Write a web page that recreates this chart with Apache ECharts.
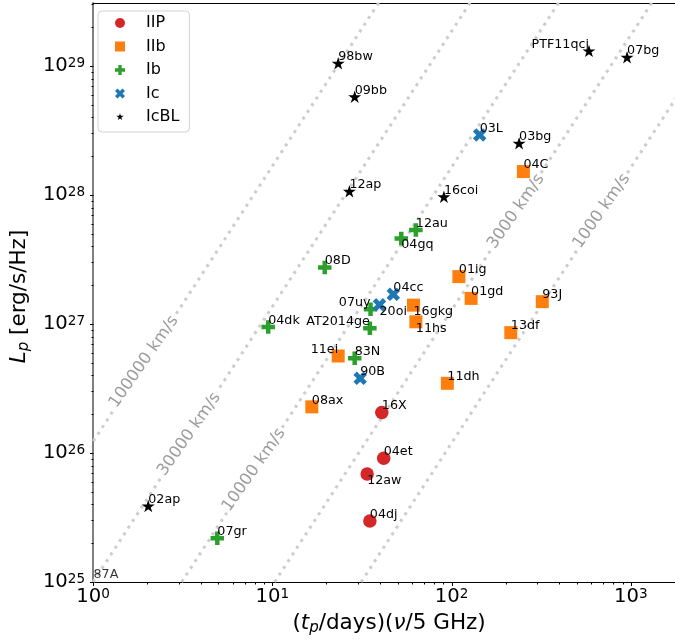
<!DOCTYPE html>
<html><head><meta charset="utf-8">
<script src="https://cdn.jsdelivr.net/npm/echarts@6/dist/echarts.min.js"></script>
<style>html,body{margin:0;padding:0;background:#fff}#c{width:675px;height:642px}</style>
</head><body><div id="c"></div>
<script>
// ---------------- data ----------------
const typeNames = ['IIP', 'IIb', 'Ib', 'Ic', 'IcBL'];

const iipNames = ['16X', '04et', '12aw', '04dj'];
const iipT = [40.8, 41.8, 33.8, 35.0];
const iipL = [2.06e26, 9.1e25, 6.87e25, 2.97e25];

const iibNames = ['04C', '01ig', '01gd', '93J', '13df', '16gkg', '11hs', '11ei', '08ax', '11dh'];
const iibT = [251.5, 109.8, 128.5, 320.6, 214, 61.3, 63.2, 23.3, 16.6, 94.7];
const iibL = [1.52e28, 2.33e27, 1.58e27, 1.49e27, 8.57e26, 1.40e27, 1.04e27, 5.65e26, 2.28e26, 3.47e26];

const ibNames = ['12au', '04gq', '08D', '04dk', '07uy', 'AT2014ge', '83N', '07gr'];
const ibT = [63.2, 52.4, 19.6, 9.48, 35.3, 35.0, 28.8, 4.93];
const ibL = [5.36e27, 4.61e27, 2.74e27, 9.48e26, 1.30e27, 9.27e26, 5.42e26, 2.18e25];

const icNames = ['03L', '04cc', '20oi', '90B'];
const icT = [143.5, 47.3, 39.6, 30.9];
const icL = [2.92e28, 1.70e27, 1.41e27, 3.79e26];

const icblNames = ['98bw', '09bb', 'PTF11qcj', '07bg', '03bg', '12ap', '16coi', '02ap'];
const icblT = [23.3, 28.8, 584, 953, 238, 26.9, 90.6, 2.03];
const icblL = [1.05e29, 5.78e28, 1.31e29, 1.17e29, 2.52e28, 1.07e28, 9.7e27, 3.88e25];

// label-only point (marker falls outside the plotted range)
const extraNames = ['87A'];
const extraT = [1.005];
const extraL = [1.01e25];

// constant-velocity reference lines: two end points each
const velNames = ['100000 km/s', '30000 km/s', '10000 km/s', '3000 km/s', '1000 km/s'];
const velStartT = [0.309, 1.0, 3.12, 10.3, 31.3];
const velEndT = [67.9, 220, 685, 2270, 6870];
const velStartL = 1e25;
const velEndL = 1e30;
const velLabelT = [1.92, 3.44, 7.9, 229, 687];
const velLabelL = [5.1e26, 1.4e26, 7.4e25, 7.45e27, 7.5e27];

const xMin = 1, xMax = 1764;
const yMin = 1e25, yMax = 3.08e29;

// ---------------- styles ----------------
const FONT = 'DejaVu Sans';
const colors = ['#d62728', '#ff7f0e', '#2ca02c', '#1f77b4', '#000000'];
const PLUS = 'path://M-1,-3L-1,-1L-3,-1L-3,1L-1,1L-1,3L1,3L1,1L3,1L3,-1L1,-1L1,-3Z';
const XSYM = 'path://M-1,-2L0,-1L1,-2L2,-1L1,0L2,1L1,2L0,1L-1,2L-2,1L-1,0L-2,-1Z';
function starPath(pad) {
  let s = 'path://';
  if (pad) s += 'M-' + pad + ',-' + pad + 'M' + pad + ',' + pad;
  for (let i = 0; i < 10; i++) {
    const r = i % 2 ? 0.381966 : 1;
    const a = (90 + 36 * i) * Math.PI / 180;
    s += (i ? 'L' : 'M') + (r * Math.cos(a)).toFixed(4) + ',' + (-r * Math.sin(a)).toFixed(4);
  }
  return s + 'Z';
}
const STAR = starPath(0);
const symbols = ['circle', 'rect', PLUS, XSYM, STAR];
const sizes = [13.5, 13, 13.5, 13.5, 13];
const legendIcons = ['circle', 'rect', PLUS, XSYM, starPath(1.3)];

const labelPlacement = {
  '07uy': 'lt', 'AT2014ge': 'lt', '11ei': 'lt', 'PTF11qcj': 'lt',
  '20oi': 'rb', '16gkg': 'rb', '11hs': 'rb', '04gq': 'rb', '12aw': 'rb'
};
function labelFor(name) {
  const p = labelPlacement[name] || 'rt';
  return {
    align: p === 'lt' ? 'right' : 'left',
    verticalAlign: p === 'rb' ? 'top' : 'bottom'
  };
}
function pts(names, t, L) {
  return names.map((n, i) => ({ name: n, value: [t[i], L[i]], label: labelFor(n) }));
}
const groups = [
  pts(iipNames, iipT, iipL), pts(iibNames, iibT, iibL), pts(ibNames, ibT, ibL),
  pts(icNames, icT, icL), pts(icblNames, icblT, icblL)
];

function powLabel(v) {
  const e = Math.round(Math.log10(v));
  if (Math.abs(Math.log10(v) - e) > 1e-6) return '';
  return '{b|10}{s|' + e + '}';
}
const tickRich = {
  b: { fontSize: 19.6, fontFamily: FONT, color: '#000', lineHeight: 20, verticalAlign: 'middle' },
  s: { fontSize: 13.6, fontFamily: FONT, color: '#000', lineHeight: 14, verticalAlign: 'top' }
};

// tick positions (decoration)
const xMajor = [], xMinor = [], yMajor = [], yMinor = [];
for (let d = 0; d <= 3; d++) {
  const b = Math.pow(10, d);
  if (b <= xMax) xMajor.push(b);
  for (let k = 2; k <= 9; k++) if (k * b <= xMax) xMinor.push(k * b);
}
for (let d = 25; d <= 29; d++) {
  const b = Math.pow(10, d);
  if (b <= yMax) yMajor.push(b);
  for (let k = 2; k <= 9; k++) if (k * b <= yMax * 1.0001) yMinor.push(k * b);
}
const tickData = [];
xMajor.forEach(v => tickData.push([v, yMin, 0, 3.5]));
xMinor.forEach(v => tickData.push([v, yMin, 0, 2]));
yMajor.forEach(v => tickData.push([xMin, v, 1, 3.5]));
yMinor.forEach(v => tickData.push([xMin, v, 1, 2]));

const series = [];
velNames.forEach((n, i) => {
  series.push({
    type: 'line', name: n, silent: true, symbol: 'none', z: 1,
    data: [[velStartT[i], velStartL], [velEndT[i], velEndL]],
    lineStyle: { color: '#cdcdcd', width: 3, type: [3, 5], cap: 'butt' }
  });
});
series.push({
  type: 'scatter', name: 'vlabels', silent: true, z: 2,
  symbolSize: 1, itemStyle: { color: 'rgba(0,0,0,0)' },
  data: velNames.map((n, i) => ({ name: n, value: [velLabelT[i], velLabelL[i]] })),
  label: {
    show: true, position: 'inside', formatter: '{b}', rotate: 55,
    fontFamily: FONT, fontSize: 16.5, color: '#858585',
    backgroundColor: '#ffffff', padding: [0, 2]
  }
});
typeNames.forEach((n, i) => {
  series.push({
    type: 'scatter', name: n, z: 5,
    symbol: symbols[i], symbolSize: sizes[i], symbolKeepAspect: true,
    itemStyle: { color: colors[i], opacity: 1 },
    data: groups[i],
    label: {
      show: true, formatter: '{b}', position: ['50%', '50%'],
      fontFamily: FONT, fontSize: 12.7, color: '#000'
    }
  });
});
series.push({
  type: 'scatter', name: 'extra', silent: true, z: 5,
  symbolSize: 2, itemStyle: { color: 'rgba(0,0,0,0)' },
  data: pts(extraNames, extraT, extraL),
  label: { show: true, formatter: '{b}', position: ['50%', '50%'], fontFamily: FONT, fontSize: 12.7, color: '#000' }
});
series.push({
  type: 'custom', name: 'ticks', silent: true, clip: false, z: 10,
  data: tickData,
  encode: { x: 0, y: 1 },
  renderItem: function (params, api) {
    const p = api.coord([api.value(0), api.value(1)]);
    const len = api.value(3);
    const horiz = api.value(2) === 1;
    const x = Math.round(p[0]) + 0.5, y = Math.round(p[1]) + 0.5;
    return {
      type: 'line',
      shape: horiz ? { x1: x - len, y1: y, x2: x, y2: y } : { x1: x, y1: y, x2: x, y2: y + len },
      style: { stroke: '#000', lineWidth: 1 }
    };
  }
});

const chart = echarts.init(document.getElementById('c'), null, { renderer: 'canvas' });
chart.setOption({
  animation: false,
  backgroundColor: '#fff',
  grid: { left: 90, top: 3, right: -1, bottom: 60, containLabel: false },
  legend: {
    orient: 'vertical', left: 98, top: 11,
    data: typeNames.map((n, i) => ({ name: n, icon: legendIcons[i] })),
    itemWidth: 10, itemHeight: 10, itemGap: 7.5,
    padding: [4, 10, 7, 17],
    borderColor: '#d3d3d3', borderWidth: 1, borderRadius: 4,
    backgroundColor: 'rgba(255,255,255,0.8)',
    textStyle: { fontFamily: FONT, fontSize: 16, color: '#000', lineHeight: 16, padding: [0, 0, 0, 16] },
    selectedMode: false
  },
  xAxis: [{
    type: 'log', logBase: 10, min: xMin, max: xMax,
    axisLine: { show: true, onZero: false, lineStyle: { color: '#000', width: 1 } },
    axisTick: { show: false }, minorTick: { show: false }, splitLine: { show: false },
    axisLabel: { formatter: powLabel, margin: 5, rich: tickRich, showMaxLabel: false },
    name: '({i|t}{sub|p}{n|/days)(}{i|ν}{n|/5 GHz)}',
    nameLocation: 'middle', nameGap: 28,
    nameTextStyle: {
      fontFamily: FONT, fontSize: 21.5, color: '#000', padding: [0, 0, 0, 10],
      rich: {
        n: { fontFamily: FONT, fontSize: 21.5, color: '#000', lineHeight: 26, verticalAlign: 'middle' },
        i: { fontFamily: FONT, fontSize: 21.5, fontStyle: 'italic', color: '#000', lineHeight: 26, verticalAlign: 'middle' },
        sub: { fontFamily: FONT, fontSize: 15, fontStyle: 'italic', color: '#000', lineHeight: 15, verticalAlign: 'bottom' }
      }
    }
  }, {
    type: 'log', logBase: 10, min: xMin, max: xMax, position: 'top',
    axisLine: { show: true, onZero: false, lineStyle: { color: '#000', width: 1 } },
    axisTick: { show: false }, axisLabel: { show: false }, splitLine: { show: false }
  }],
  yAxis: {
    type: 'log', logBase: 10, min: yMin, max: yMax,
    axisLine: { show: true, onZero: false, lineStyle: { color: '#808080', width: 2 } },
    axisTick: { show: false }, minorTick: { show: false }, splitLine: { show: false },
    axisLabel: { formatter: powLabel, margin: 8, rich: tickRich, showMaxLabel: false },
    name: '{i|L}{sub|p}{n| [erg/s/Hz]}',
    nameLocation: 'middle', nameGap: 56, nameRotate: 90,
    nameTextStyle: {
      fontFamily: FONT, fontSize: 21.5, color: '#000', padding: [0, 8, 0, 0],
      rich: {
        n: { fontFamily: FONT, fontSize: 21.5, color: '#000', lineHeight: 26, verticalAlign: 'middle' },
        i: { fontFamily: FONT, fontSize: 21.5, fontStyle: 'italic', color: '#000', lineHeight: 26, verticalAlign: 'middle' },
        sub: { fontFamily: FONT, fontSize: 15, fontStyle: 'italic', color: '#000', lineHeight: 15, verticalAlign: 'bottom' }
      }
    }
  },
  series: series
});
</script>
</body></html>
